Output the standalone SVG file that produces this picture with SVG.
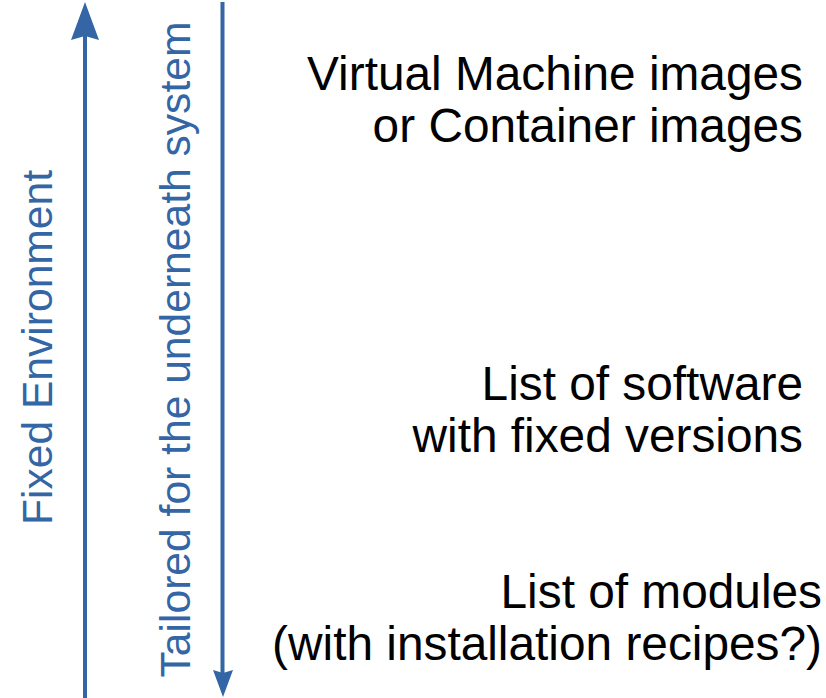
<svg xmlns="http://www.w3.org/2000/svg" width="826" height="698" viewBox="0 0 826 698">
<style>
.axis{stroke:#3465a4;stroke-width:4;fill:none}
.head{fill:#3465a4}
.lbl{font-family:"Liberation Sans",Arial,sans-serif;font-size:42.6px;fill:#3465a4}
.txt{font-family:"Liberation Sans",Arial,sans-serif;font-size:47.8px;fill:#000;text-anchor:end}
</style>
<rect width="826" height="698" fill="#fff"/>
<g id="connectors">
<line class="axis" x1="85" y1="698" x2="85" y2="36"/>
<polygon class="head" points="85,2 99,40 85,36 71,40"/>
<line class="axis" x1="222.5" y1="2" x2="222.5" y2="674"/>
<polygon class="head" points="223,697 233,670 223,673 213,670"/>
</g>
<g id="fixed-environment">
<text class="lbl" text-anchor="middle" transform="translate(52,347.5) rotate(-90)">Fixed Environment</text>
</g>
<g id="tailored">
<text class="lbl" text-anchor="middle" transform="translate(190,349.5) rotate(-90)">Tailored for the underneath system</text>
</g>
<g id="vm-images">
<text class="txt" x="803" y="90">Virtual Machine images</text>
<text class="txt" x="803" y="142">or Container images</text>
</g>
<g id="software-list">
<text class="txt" x="803" y="400">List of software</text>
<text class="txt" x="803" y="452">with fixed versions</text>
</g>
<g id="modules-list">
<text class="txt" x="822" y="608">List of modules</text>
<text class="txt" x="822" y="660">(with installation recipes?)</text>
</g>
</svg>
